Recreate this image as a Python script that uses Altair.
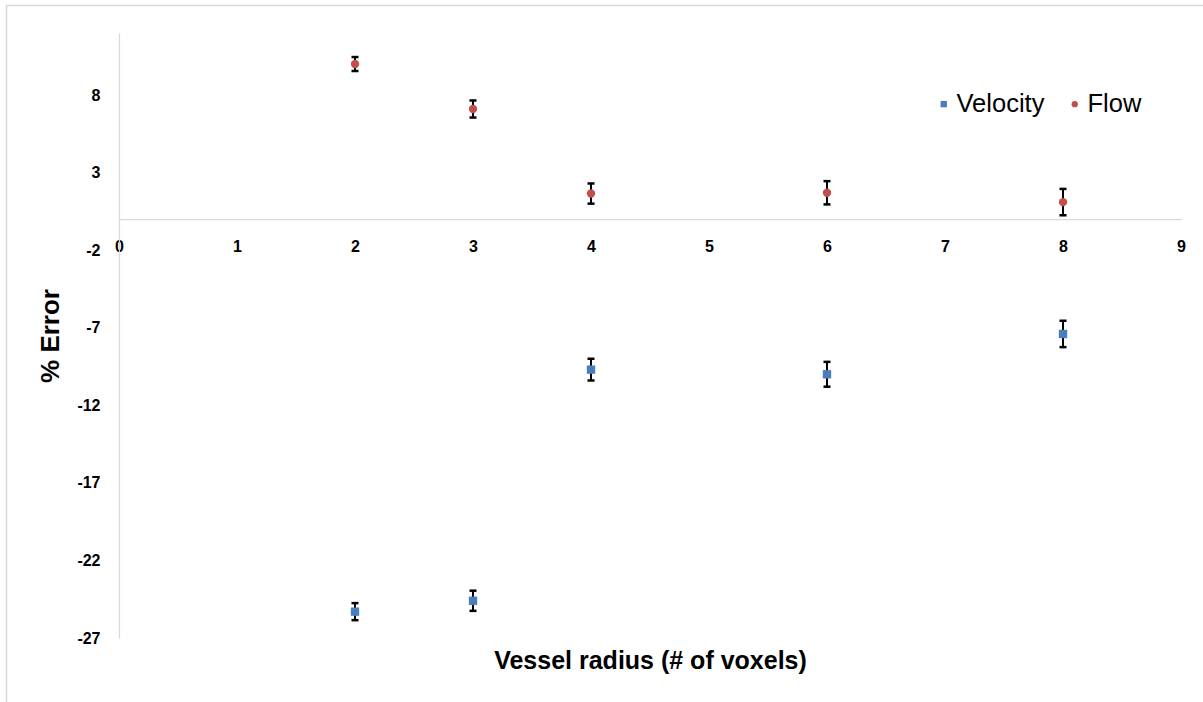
import altair as alt
import pandas as pd

# Vessel radius (# of voxels) at which each measurement was taken
radius = [2, 3, 4, 6, 8]

# Percent error of the measured velocity and flow, with error-bar half widths
velocity = [-25.3, -24.6, -9.7, -10.0, -7.4]
velocity_err = [0.55, 0.65, 0.7, 0.8, 0.85]
flow = [10.0, 7.1, 1.65, 1.7, 1.1]
flow_err = [0.45, 0.55, 0.65, 0.75, 0.85]

series_names = ["Velocity", "Flow"]
series_colors = ["#4A7EBB", "#C0504D"]
series_shapes = ["square", "circle"]

x_ticks = list(range(0, 10))
y_ticks = [-27, -22, -17, -12, -7, -2, 3, 8]
y_min, y_max = -27, 12

rows = []
for name, vals, errs in (("Velocity", velocity, velocity_err), ("Flow", flow, flow_err)):
    for r, v, e in zip(radius, vals, errs):
        rows.append({"radius": r, "series": name, "value": v,
                     "lo": v - e, "hi": v + e})
df = pd.DataFrame(rows)

W, H = 1062, 605
FONT = "Liberation Sans"
zero_offset = -H * (0 - y_min) / (y_max - y_min)

x_axis = alt.Axis(values=x_ticks, labelExpr="'' + datum.value", ticks=False,
                  tickSize=0, grid=False, labelFlush=False,
                  domainColor="#d9d9d9", domainWidth=1.2,
                  offset=zero_offset, labelPadding=27, labelBaseline="middle",
                  labelFontSize=16, labelFontWeight="bold", labelColor="#000000",
                  labelFont=FONT,
                  title="Vessel radius (# of voxels)", titleFont=FONT,
                  titleFontSize=25, titleFontWeight="bold", titleColor="#000000",
                  titleY=441, titleBaseline="middle")
y_axis = alt.Axis(values=y_ticks, labelExpr="'' + datum.value", ticks=False,
                  tickSize=0, grid=False, labelFlush=False,
                  domainColor="#d9d9d9", domainWidth=1.2,
                  labelPadding=19, labelFontSize=16, labelFontWeight="bold",
                  labelColor="#000000", labelFont=FONT,
                  title="% Error", titleFont=FONT, titleFontSize=26,
                  titleFontWeight="bold", titleColor="#000000",
                  titleX=-69, titleBaseline="middle", titleAngle=-90)

x_scale = alt.Scale(domain=[0, 9], nice=False, zero=False)
y_scale = alt.Scale(domain=[y_min, y_max], nice=False, zero=False)

base = alt.Chart(df)

bars = base.mark_rule(color="#000000", strokeWidth=2).encode(
    x=alt.X("radius:Q", scale=x_scale, axis=x_axis),
    y=alt.Y("lo:Q", scale=y_scale, axis=y_axis),
    y2="hi:Q",
)
caps_lo = base.mark_tick(color="#000000", orient="horizontal", size=7,
                         thickness=2.5, opacity=1).encode(
    x=alt.X("radius:Q", scale=x_scale, axis=x_axis),
    y=alt.Y("lo:Q", scale=y_scale, axis=y_axis),
)
caps_hi = base.mark_tick(color="#000000", orient="horizontal", size=7,
                         thickness=2.5, opacity=1).encode(
    x=alt.X("radius:Q", scale=x_scale, axis=x_axis),
    y=alt.Y("hi:Q", scale=y_scale, axis=y_axis),
)
points = base.mark_point(filled=True, opacity=1, size=70).encode(
    x=alt.X("radius:Q", scale=x_scale, axis=x_axis),
    y=alt.Y("value:Q", scale=y_scale, axis=y_axis),
    color=alt.Color("series:N",
                    scale=alt.Scale(domain=series_names, range=series_colors),
                    legend=alt.Legend(orient="none", legendX=812, legendY=58,
                                      direction="horizontal", title=None,
                                      labelFontSize=25.5, labelFont=FONT,
                                      labelColor="#000000", symbolSize=40,
                                      labelOffset=0, columnPadding=17,
                                      symbolStrokeWidth=0)),
    shape=alt.Shape("series:N",
                    scale=alt.Scale(domain=series_names, range=series_shapes),
                    legend=None),
)

# faint frame around the figure
frame_data = alt.Data(values=[{"k": 0}])
frame_top = alt.Chart(frame_data).mark_rule(color="#d9d9d9", strokeWidth=1.5).encode(
    x=alt.value(-113), x2=alt.value(W + 22), y=alt.value(-27.5))
frame_left = alt.Chart(frame_data).mark_rule(color="#d9d9d9", strokeWidth=1.5).encode(
    x=alt.value(-112.5), y=alt.value(-27.5), y2=alt.value(H + 64))

chart = alt.layer(frame_top, frame_left, bars, caps_lo, caps_hi, points).properties(
    width=W, height=H,
    autosize=alt.AutoSizeParams(type="none"),
    padding={"left": 119, "top": 33, "right": 22, "bottom": 64},
    background="#ffffff",
).configure_view(stroke="transparent")

chart.save("out.html", embed_options={"renderer": "svg", "actions": False})
